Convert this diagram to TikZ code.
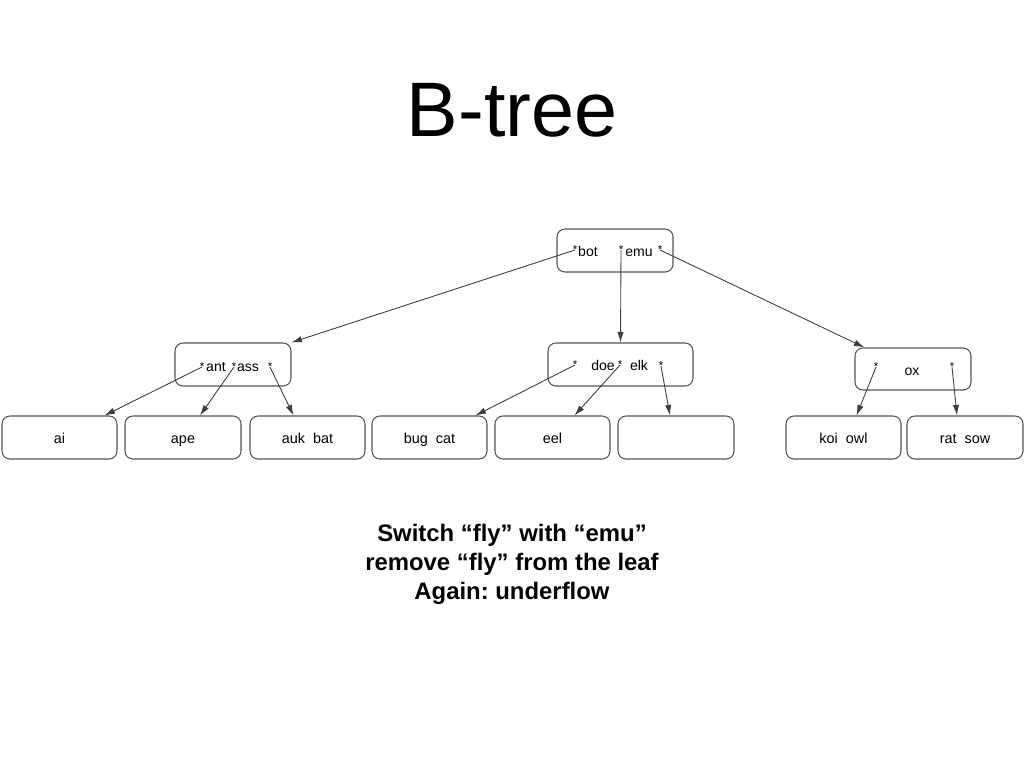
\documentclass[tikz,border=0pt]{standalone}
\usepackage{fontspec}
\setmainfont{Liberation Sans}
\usetikzlibrary{arrows.meta,calc}
\definecolor{linkgray}{HTML}{3C3C4A}
\definecolor{boxgray}{HTML}{555555}
\tikzset{
    tbox/.style={draw=boxgray, line width=0.6pt, rounded corners=4.5pt,
            minimum width=2.32cm, minimum height=0.86cm, inner sep=0pt,
            text height=1.55ex, text depth=0.3ex,
            font=\fontsize{8.2}{9}\selectfont},
    key/.style={inner sep=0pt, text height=1.55ex, text depth=0.3ex,
            font=\fontsize{8}{9}\selectfont},
    ptr/.style={inner sep=0pt, font=\fontsize{6.5}{6.5}\selectfont},
    link/.style={draw=linkgray, line width=0.5pt, -{Latex[length=6pt,width=3.6pt]}},
}

\begin{document}
\frenchspacing
\begin{tikzpicture}[x=0.02cm, y=-0.02cm]
        \useasboundingbox (0, 0) rectangle (1024, 768);
        %title
        \node[font=\fontsize{44}{50}\selectfont] (title) at (512, 110) {B-tree};
        %inner boxes
        \node[tbox] (root) at (615, 250.5) {};
        \node[tbox] (ant) at (233, 364.5) {};
        \node[tbox, minimum width=2.9cm] (doe) at (620.5, 364.5) {};
        \node[tbox, minimum height=0.84cm] (ox) at (913, 369) {};
        %keys
        \node[key] (kbot) at (588, 251) {bot};
        \node[key] (kemu) at (639, 251) {emu};
        \node[key] (kant) at (216, 366) {ant};
        \node[key] (kass) at (248, 366) {ass};
        \node[key] (kdoe) at (603, 365) {doe};
        \node[key] (kelk) at (639, 365) {elk};
        \node[key] (kox) at (912, 370) {ox};
        %pointers
        \node[ptr] (r1) at (575, 250) {*};
        \node[ptr] (r2) at (621, 250) {*};
        \node[ptr] (r3) at (660, 250) {*};
        \node[ptr] (a1) at (202, 367) {*};
        \node[ptr] (a2) at (234, 367) {*};
        \node[ptr] (a3) at (270, 367) {*};
        \node[ptr] (d1) at (575, 365) {*};
        \node[ptr] (d2) at (620, 365) {*};
        \node[ptr] (d3) at (661, 366) {*};
        \node[ptr] (o1) at (876, 367) {*};
        \node[ptr] (o2) at (952, 367) {*};
        %leaves
        \node[tbox, minimum width=2.3cm] (ai) at (59.5, 437.5) {ai};
        \node[tbox] (ape) at (183, 437.5) {ape};
        \node[tbox, minimum width=2.3cm] (auk) at (307.5, 437.5) {auk\ \ bat};
        \node[tbox, minimum width=2.3cm] (bug) at (429.5, 437.5) {bug\ \ cat};
        \node[tbox, minimum width=2.3cm] (eel) at (552.5, 437.5) {eel};
        \node[tbox] (empty) at (676, 437.5) {};
        \node[tbox, minimum width=2.3cm] (koi) at (843.5, 437.5) {koi\ \ owl};
        \node[tbox] (rat) at (965, 437.5) {rat\ \ sow};
        %links
        \draw[link] (r1.center) -- (ant.north east);
        \draw[link] (r2.center) -- (doe.north);
        \draw[link] (r3.center) -- ($(ox.north west)+(10, 0)$);
        \draw[link] (a1.center) -- ($(ai.north east)+(-13, 0)$);
        \draw[link] (a2.center) -- ($(ape.north)+(17, 0)$);
        \draw[link] (a3.center) -- ($(auk.north)+(-14, 0)$);
        \draw[link] (d1.center) -- ($(bug.north east)+(-12, 0)$);
        \draw[link] (d2.center) -- ($(eel.north)+(22, 0)$);
        \draw[link] (d3.center) -- ($(empty.north)+(-6, 0)$);
        \draw[link] (o1.center) -- ($(koi.north)+(13, 0)$);
        \draw[link] (o2.center) -- ($(rat.north)+(-8, 0)$);
        %caption
        \node[font=\bfseries\fontsize{13.6}{16.5}\selectfont, align=center] (note) at (512, 564)
        {Switch “fly” with “emu”\\remove “fly” from the leaf\\Again: underflow};
    \end{tikzpicture}
\end{document}
